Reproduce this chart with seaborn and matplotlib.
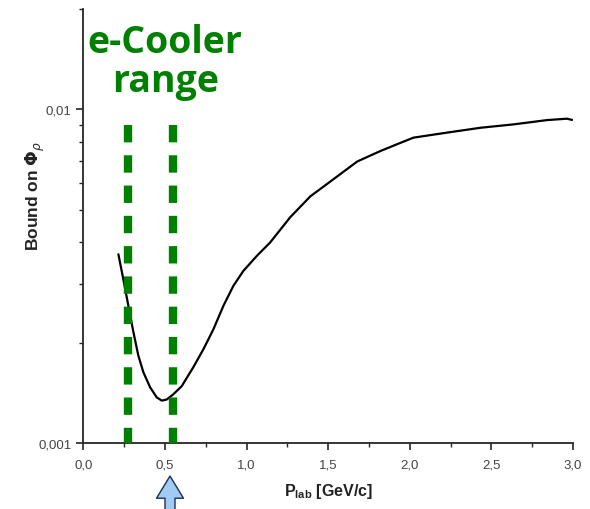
import numpy as np
import pandas as pd
import matplotlib
matplotlib.use("Agg")
import matplotlib.pyplot as plt
import matplotlib.ticker as mticker
import seaborn as sns

# curve
p_lab = [0.214, 0.244, 0.275, 0.306, 0.336, 0.367, 0.408, 0.449, 0.480,
         0.510, 0.551, 0.602, 0.674, 0.735, 0.796, 0.858, 0.919, 0.980,
         1.063, 1.144, 1.267, 1.391, 1.531, 1.678, 1.819, 1.921, 2.023,
         2.228, 2.433, 2.637, 2.842, 2.964, 2.995]
bound = [0.00368, 0.00310, 0.00258, 0.00215, 0.00183, 0.00163, 0.00147,
         0.00137, 0.00134, 0.00135, 0.00140, 0.00148, 0.00169, 0.00191,
         0.00219, 0.00258, 0.00296, 0.00328, 0.00364, 0.00399, 0.00475,
         0.00549, 0.00617, 0.00698, 0.00750, 0.00786, 0.00823, 0.00852,
         0.00881, 0.00902, 0.00929, 0.00938, 0.00930]

# e-Cooler range limits
cooler_lo = 0.273
cooler_hi = 0.549
cooler_top = 0.0090

sns.set_style("ticks")
plt.rcParams['font.family'] = ['Liberation Sans', 'DejaVu Sans']
plt.rcParams['lines.scale_dashes'] = False

fig = plt.figure(figsize=(5.9, 5.1), dpi=100)
ax = fig.add_axes([0.1415, 0.1294, 0.8295, 0.8510])

df = pd.DataFrame({'p': p_lab, 'b': bound})
sns.lineplot(data=df, x='p', y='b', color='black', lw=1.6, ax=ax)

for xv in [cooler_lo, cooler_hi]:
    ax.plot([xv, xv], [cooler_top, 0.001], color='#008000', lw=6,
            linestyle=(0, (12.5, 9.3)), solid_capstyle='butt', zorder=3)

ax.set_yscale('log')
ax.set_xlim(0, 3.0)
ax.set_ylim(0.001, 0.02)

ax.xaxis.set_major_locator(mticker.MultipleLocator(0.5))
ax.xaxis.set_minor_locator(mticker.MultipleLocator(0.25))
ax.xaxis.set_major_formatter(mticker.FuncFormatter(lambda v, p: f"{v:.1f}".replace('.', ',')))
ax.yaxis.set_major_locator(mticker.FixedLocator([0.001, 0.01]))
ax.yaxis.set_major_formatter(mticker.FixedFormatter(['0,001', '0,01']))
ax.yaxis.set_minor_locator(mticker.LogLocator(base=10, subs=np.arange(2, 10)))
ax.yaxis.set_minor_formatter(mticker.NullFormatter())

ax.tick_params(which='major', direction='out', length=5, width=1.2,
               labelsize=9.5, labelcolor='#444444')
ax.tick_params(axis='x', which='major', pad=6)
ax.tick_params(which='minor', direction='out', length=3, width=1.0)
for s in ['left', 'bottom']:
    ax.spines[s].set_linewidth(1.3)
sns.despine(ax=ax)

ax.set_xlabel(r"P$_{\mathregular{lab}}$ [GeV/c]", fontsize=11.5, fontweight='bold',
              color='#222222')
ax.xaxis.set_label_coords(0.5, -0.088)
ax.set_ylabel(r"Bound on $\mathbf{\Phi}_\rho$", fontsize=12.5, fontweight='bold',
              color='#222222')
ax.yaxis.set_label_coords(-0.074, 0.572)

fig.text(0.28, 0.878, "e-Cooler\nrange", color='#008000', fontsize=27,
         fontweight='bold', ha='center', va='center', linespacing=1.02,
         family=['Open Sans', 'DejaVu Sans'])

ax.annotate('', xy=(170, 33), xytext=(170, -4), xycoords='figure pixels',
            textcoords='figure pixels',
            arrowprops=dict(arrowstyle='simple,head_width=0.97,head_length=0.8,tail_width=0.36',
                            mutation_scale=20, fc='#9fcbf5', ec='#1f2f4f', lw=1,
                            shrinkA=0, shrinkB=0))

fig.savefig('out.png', dpi=100)
